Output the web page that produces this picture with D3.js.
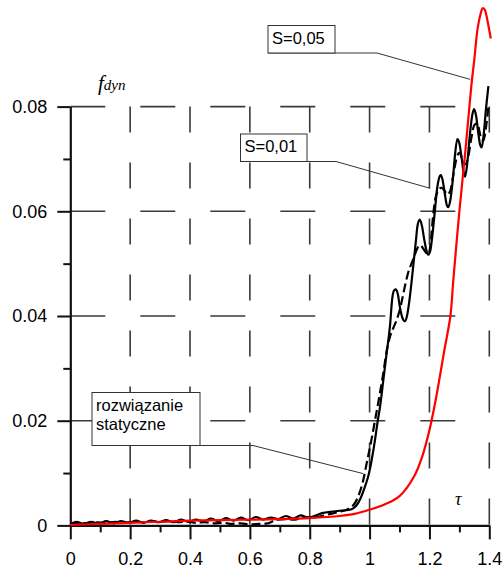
<!DOCTYPE html>
<html>
<head>
<meta charset="utf-8">
<script src="https://cdn.jsdelivr.net/npm/d3@7"></script>
<style>
  html, body { margin: 0; padding: 0; background: #fff; }
  svg { display: block; }
  .tick text { font-family: "Liberation Sans", Arial, sans-serif; font-size: 18px; fill: #000; }
</style>
</head>
<body>
<svg id="chart" width="504" height="568"></svg>
<script>
// Dynamic deflection f_dyn against dimensionless time tau
const xTicks = [0, 0.2, 0.4, 0.6, 0.8, 1.0, 1.2, 1.4];
const xTickLabels = ["0", "0.2", "0.4", "0.6", "0.8", "1", "1.2", "1.4"];
const xMinorTicks = [0.1, 0.3, 0.5, 0.7, 0.9, 1.1, 1.3];
const yTicks = [0, 0.02, 0.04, 0.06, 0.08];
const yTickLabels = ["0", "0.02", "0.04", "0.06", "0.08"];
const yMinorTicks = [0.01, 0.03, 0.05, 0.07];

// S = 0,05 (red)
const tauRed = [0, 0.1, 0.2, 0.3, 0.4, 0.5, 0.6, 0.7, 0.8, 0.9, 0.95, 1.0, 1.05, 1.1, 1.15, 1.175, 1.2, 1.22, 1.25, 1.27, 1.28, 1.30, 1.32, 1.34, 1.35, 1.36, 1.37, 1.378, 1.385, 1.39, 1.397, 1.405];
const fRed   = [0.0001, 0.0003, 0.0005, 0.0007, 0.0009, 0.0010, 0.0011, 0.0012, 0.0014, 0.0018, 0.0022, 0.0030, 0.0040, 0.0056, 0.0095, 0.0130, 0.0182, 0.0237, 0.0335, 0.0400, 0.0470, 0.0600, 0.0715, 0.0840, 0.0890, 0.0945, 0.0975, 0.0988, 0.0985, 0.0975, 0.0955, 0.0930];

// S = 0,01 (black, solid)
const tauSolid = [0.00, 0.02, 0.045, 0.07, 0.095, 0.12, 0.145, 0.17, 0.195, 0.22, 0.245, 0.27, 0.295, 0.32, 0.345, 0.37, 0.395, 0.42, 0.445, 0.47, 0.495, 0.52, 0.545, 0.57, 0.595, 0.62, 0.645, 0.67, 0.695, 0.72, 0.745, 0.77, 0.795, 0.82, 0.845, 0.87, 0.90, 0.92, 0.94, 0.957, 0.97, 0.979, 0.988, 0.996, 1.007, 1.018, 1.026, 1.035, 1.046, 1.057, 1.068, 1.076, 1.082, 1.088, 1.095, 1.101, 1.110, 1.118, 1.125, 1.132, 1.141, 1.148, 1.155, 1.160, 1.168, 1.175, 1.183, 1.190, 1.196, 1.203, 1.210, 1.218, 1.226, 1.232, 1.238, 1.244, 1.251, 1.258, 1.263, 1.270, 1.278, 1.285, 1.293, 1.300, 1.308, 1.314, 1.319, 1.326, 1.334, 1.342, 1.349, 1.356, 1.363, 1.369, 1.3745, 1.381, 1.388, 1.397];
const fSolid   = [0.0002, 0.0007, 0.0003, 0.0007, 0.0003, 0.0008, 0.0004, 0.0008, 0.0005, 0.0009, 0.0005, 0.0009, 0.0006, 0.0010, 0.0006, 0.0011, 0.0007, 0.0011, 0.0008, 0.0013, 0.0008, 0.0014, 0.0009, 0.0015, 0.0010, 0.0016, 0.0011, 0.0015, 0.0012, 0.0018, 0.0013, 0.0019, 0.0015, 0.0019, 0.0024, 0.0026, 0.0028, 0.0029, 0.0031, 0.0039, 0.0052, 0.0065, 0.0080, 0.0095, 0.0125, 0.0163, 0.0195, 0.0227, 0.0278, 0.0329, 0.0380, 0.0435, 0.0449, 0.0451, 0.0440, 0.0418, 0.0396, 0.0390, 0.0400, 0.0425, 0.0469, 0.0507, 0.0545, 0.0572, 0.0584, 0.0572, 0.0545, 0.0525, 0.0517, 0.0525, 0.0555, 0.0600, 0.0645, 0.0663, 0.0669, 0.0660, 0.0635, 0.0612, 0.0608, 0.0622, 0.0660, 0.0705, 0.0738, 0.0730, 0.0700, 0.0675, 0.0666, 0.0690, 0.0740, 0.0780, 0.0795, 0.0782, 0.0750, 0.0728, 0.0722, 0.0745, 0.0790, 0.0839];

// rozwiązanie statyczne (black, dashed)
const tauDashed = [0.00, 0.03, 0.06, 0.09, 0.12, 0.15, 0.18, 0.21, 0.24, 0.27, 0.30, 0.33, 0.36, 0.39, 0.42, 0.45, 0.48, 0.51, 0.54, 0.57, 0.60, 0.63, 0.66, 0.69, 0.72, 0.75, 0.78, 0.81, 0.84, 0.87, 0.90, 0.93, 0.95, 0.965, 0.977, 0.99, 1.005, 1.018, 1.03, 1.045, 1.057, 1.068, 1.08, 1.09, 1.10, 1.11, 1.12, 1.13, 1.14, 1.15, 1.16, 1.17, 1.18, 1.19, 1.197, 1.205, 1.212, 1.22, 1.23, 1.24, 1.25, 1.26, 1.27, 1.28, 1.29, 1.30, 1.31, 1.32, 1.33, 1.34, 1.35, 1.36, 1.37, 1.38, 1.39, 1.397];
const fDashed   = [0.0003, 0.0005, 0.0004, 0.0006, 0.0005, 0.0007, 0.0005, 0.0007, 0.0006, 0.0008, 0.0007, 0.0008, 0.0006, 0.0007, 0.0005, 0.0006, 0.0004, 0.0005, 0.0003, 0.0004, 0.0002, 0.0003, 0.0004, 0.0011, 0.0012, 0.0011, 0.0016, 0.0015, 0.0018, 0.0022, 0.0026, 0.0032, 0.0042, 0.0060, 0.0082, 0.0118, 0.0160, 0.0200, 0.0238, 0.0288, 0.0333, 0.0360, 0.0378, 0.0392, 0.0410, 0.0435, 0.0462, 0.0485, 0.0500, 0.0515, 0.0530, 0.0535, 0.0528, 0.0520, 0.0518, 0.0545, 0.0590, 0.0625, 0.0640, 0.0645, 0.0640, 0.0632, 0.0640, 0.0670, 0.0700, 0.0712, 0.0700, 0.0690, 0.0705, 0.0740, 0.0765, 0.0768, 0.0745, 0.0735, 0.0765, 0.0800];

const svg = d3.select("#chart");
const x = d3.scaleLinear().domain([0, 1.4]).range([70.3, 489.3]);
const y = d3.scaleLinear().domain([0, 0.08]).range([525.4, 106.6]);

const gridColor = "#3a3a3a";

// dashed grid
const grid = svg.append("g");
grid.selectAll("line.v").data(xTicks.slice(1)).join("line")
  .attr("x1", d => x(d)).attr("x2", d => x(d))
  .attr("y1", y(0.08)).attr("y2", y(0))
  .attr("stroke", gridColor).attr("stroke-width", 1.6)
  .attr("stroke-dasharray", "26,30");
grid.selectAll("line.h").data(yTicks.slice(1)).join("line")
  .attr("x1", x(0)).attr("x2", x(1.4))
  .attr("y1", d => y(d)).attr("y2", d => y(d))
  .attr("stroke", gridColor).attr("stroke-width", 1.6)
  .attr("stroke-dasharray", "35,35");

// axes
const xAxis = svg.append("g").attr("transform", `translate(0,${y(0)})`)
  .call(d3.axisBottom(x).tickValues(xTicks).tickSize(14).tickSizeOuter(0)
    .tickFormat((d, i) => xTickLabels[i]));
xAxis.selectAll(".tick text").attr("dy", null).attr("y", 40);
svg.append("g").attr("transform", `translate(0,${y(0)})`)
  .call(d3.axisBottom(x).tickValues(xMinorTicks).tickSize(7).tickFormat(""))
  .select(".domain").remove();

const yAxis = svg.append("g").attr("transform", `translate(${x(0)},0)`)
  .call(d3.axisLeft(y).tickValues(yTicks).tickSize(13).tickSizeOuter(0)
    .tickPadding(10).tickFormat((d, i) => yTickLabels[i]));
svg.append("g").attr("transform", `translate(${x(0)},0)`)
  .call(d3.axisLeft(y).tickValues(yMinorTicks).tickSize(7).tickFormat(""))
  .select(".domain").remove();

svg.selectAll(".domain").attr("stroke", "#111").attr("stroke-width", 2.2);
svg.selectAll(".tick line").attr("stroke", "#111").attr("stroke-width", 2);

// curves
const line = d3.line().x(d => x(d[0])).y(d => y(d[1])).curve(d3.curveMonotoneX);
const toPairs = (t, v) => t.map((d, i) => [d, v[i]]);

svg.append("path").datum(toPairs(tauDashed, fDashed))
  .attr("d", line).attr("fill", "none").attr("stroke", "#000")
  .attr("stroke-width", 2.2).attr("stroke-dasharray", "9,4");
svg.append("path").datum(toPairs(tauSolid, fSolid))
  .attr("d", line).attr("fill", "none").attr("stroke", "#000")
  .attr("stroke-width", 2.2);
svg.append("path").datum(toPairs(tauRed, fRed))
  .attr("d", line.curve(d3.curveCatmullRom.alpha(0.5))).attr("fill", "none")
  .attr("stroke", "#ff0000").attr("stroke-width", 2.2);

// callouts: box, label lines, leader to the curve
const labelFont = '"Liberation Sans", Arial, sans-serif';
function callout(box, lines, knee, target) {
  const g = svg.append("g");
  g.append("polyline")
    .attr("points", [[box[0], box[1] + box[3]], knee, [x(target[0]), y(target[1])]].map(p => p.join(",")).join(" "))
    .attr("fill", "none").attr("stroke", "#333").attr("stroke-width", 1);
  g.append("rect").attr("x", box[0]).attr("y", box[1]).attr("width", box[2]).attr("height", box[3])
    .attr("fill", "#fff").attr("stroke", "#333").attr("stroke-width", 1);
  lines.forEach((t, i) => {
    g.append("text").attr("x", box[0] + 4).attr("y", box[1] + 18 + i * 19)
      .attr("font-family", labelFont).attr("font-size", 16.5).attr("fill", "#000").text(t);
  });
}
callout([268, 25.5, 67, 27.5], ["S=0,05"], [377, 53], [1.336, 0.0852]);
callout([240.5, 134, 66.5, 27.5], ["S=0,01"], [336, 161.5], [1.202, 0.0644]);
callout([92, 392.5, 108, 53], ["rozwiązanie", "statyczne"], [253, 445.5], [0.978, 0.0099]);

// axis titles
const ft = svg.append("text").attr("x", 98).attr("y", 90)
  .attr("font-family", '"Liberation Serif", "Times New Roman", serif').attr("font-style", "italic").attr("fill", "#000");
ft.append("tspan").attr("font-size", 21).text("f");
ft.append("tspan").attr("font-size", 15).attr("dy", 0).text("dyn");

svg.append("text").attr("x", 455).attr("y", 505)
  .attr("font-family", '"Liberation Serif", "Times New Roman", serif').attr("font-style", "italic")
  .attr("font-size", 18).attr("fill", "#000").text("τ");
</script>
</body>
</html>
